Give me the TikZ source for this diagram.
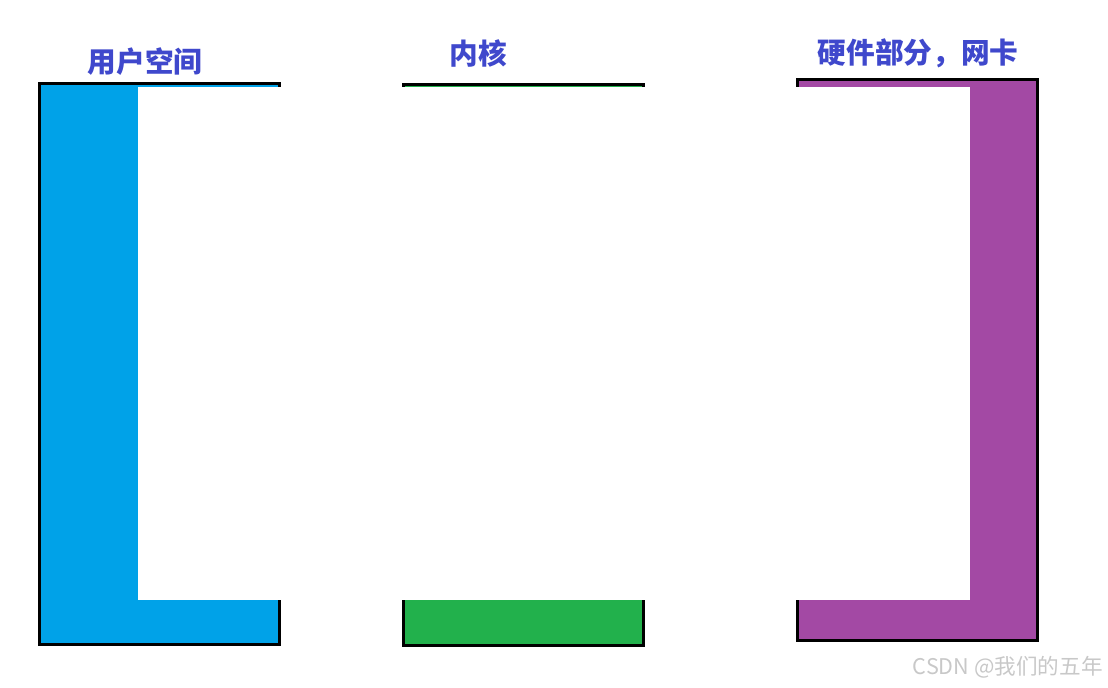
\documentclass[tikz,border=0pt]{standalone}
\usepackage{fontspec}
\newfontfamily\cjk{Noto Sans CJK SC}
\definecolor{userblue}{RGB}{0,162,232}
\definecolor{kerngreen}{RGB}{34,177,76}
\definecolor{nicpurple}{RGB}{163,73,164}
\definecolor{titleblue}{RGB}{63,72,204}
\definecolor{markgray}{RGB}{200,200,200}
\begin{document}
\begin{tikzpicture}[x=0.75pt,y=0.75pt,yscale=-1,
  box/.style={line width=2.25pt},
  cover/.style={fill=white},
  title/.style={text=titleblue,font=\cjk\bfseries\fontsize{21.5}{24}\selectfont,inner sep=0pt}]
\useasboundingbox (0,0) rectangle (1108,687);

%Shape: Rectangle [user space]
\filldraw [box, fill=userblue] (39.5,83.5) rectangle (279.5,644.5) ;
\fill [cover] (138,87) rectangle (283,600) ;
%Shape: Rectangle [kernel]
\filldraw [box, fill=kerngreen] (403.5,84.5) rectangle (643.5,645.5) ;
\fill [cover] (400,87) rectangle (647,600) ;
%Shape: Rectangle [nic]
\filldraw [box, fill=nicpurple] (797.5,79.5) rectangle (1037.5,640.5) ;
\fill [cover] (794,87) rectangle (970,600) ;

% Text Nodes
\node [title] (user) at (145,62) {用户空间};
\node [title] (kernel) at (478,53) {内核};
\node [title] (nic) at (918,53) {硬件部分，网卡};
\node [text=markgray, font=\cjk\fontsize{16.2}{19}\selectfont, inner sep=0pt, anchor=east] (mark) at (1103,667) {CSDN @我们的五年};

\end{tikzpicture}
\end{document}
